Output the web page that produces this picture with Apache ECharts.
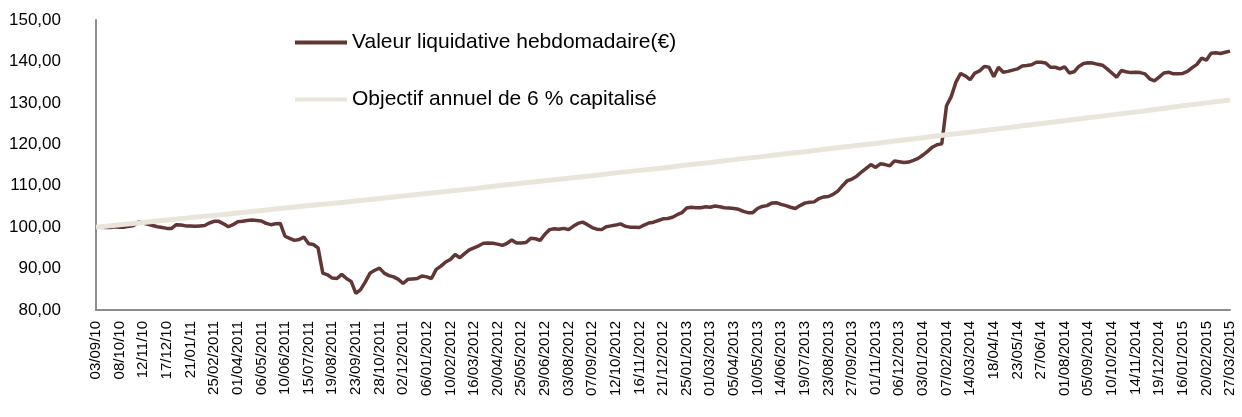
<!DOCTYPE html>
<html>
<head>
<meta charset="utf-8">
<script src="https://cdn.jsdelivr.net/npm/echarts@6/dist/echarts.min.js"></script>
<style>
html,body{margin:0;padding:0;background:#fff;}
#chart{width:1242px;height:417px;}
</style>
</head>
<body>
<div id="chart"></div>
<script>
// Tick labels (one every 5 weekly points)
const tickLabels = ["03/09/10","08/10/10","12/11/10","17/12/10","21/01/11","25/02/2011","01/04/2011","06/05/2011","10/06/2011","15/07/2011","19/08/2011","23/09/2011","28/10/2011","02/12/2011","06/01/2012","10/02/2012","16/03/2012","20/04/2012","25/05/2012","29/06/2012","03/08/2012","07/09/2012","12/10/2012","16/11/2012","21/12/2012","25/01/2013","01/03/2013","05/04/2013","10/05/2013","14/06/2013","19/07/2013","23/08/2013","27/09/2013","01/11/2013","06/12/2013","03/01/2014","07/02/2014","14/03/2014","18/04/14","23/05/14","27/06/14","01/08/2014","05/09/2014","10/10/2014","14/11/2014","19/12/2014","16/01/2015","20/02/2015","27/03/2015"];

// Weekly net asset value (241 weeks)
const valeurLiquidative = [
100.0,100.0,99.9,99.9,100.1,100.0,100.0,100.2,100.4,101.3,
101.0,100.7,100.4,100.1,99.9,99.7,99.7,100.6,100.5,100.3,
100.3,100.2,100.3,100.4,101.0,101.4,101.4,100.8,100.1,100.6,
101.3,101.4,101.6,101.7,101.6,101.5,100.9,100.6,100.8,100.9,
97.8,97.3,96.8,97.0,97.6,96.0,95.8,95.0,88.9,88.5,
87.7,87.6,88.6,87.6,86.9,84.0,84.9,86.8,88.9,89.6,
90.1,88.9,88.3,88.0,87.4,86.4,87.4,87.5,87.6,88.2,
88.0,87.6,89.8,90.6,91.6,92.2,93.4,92.6,93.6,94.5,
95.0,95.5,96.1,96.2,96.1,95.9,95.6,96.1,96.9,96.2,
96.2,96.3,97.3,97.2,96.8,98.3,99.4,99.6,99.5,99.7,
99.4,100.2,100.9,101.2,100.6,99.9,99.5,99.4,100.1,100.3,
100.5,100.8,100.2,100.0,100.0,99.9,100.5,101.0,101.2,101.6,
102.0,102.1,102.4,103.0,103.5,104.6,104.8,104.7,104.7,104.9,
104.8,105.1,104.9,104.7,104.6,104.5,104.3,103.8,103.5,103.5,
104.5,105.0,105.2,105.8,105.9,105.5,105.2,104.8,104.5,105.2,
105.8,106.0,106.1,106.9,107.3,107.4,107.9,108.7,110.0,111.2,
111.6,112.3,113.3,114.2,115.1,114.4,115.3,115.1,114.8,116.0,
115.8,115.6,115.7,116.1,116.6,117.4,118.3,119.3,119.9,120.1,
129.3,131.5,135.0,137.1,136.5,135.6,137.2,137.7,138.8,138.6,
136.3,138.6,137.4,137.6,137.9,138.2,138.9,139.0,139.2,139.8,
139.8,139.6,138.6,138.6,138.2,138.7,137.2,137.5,138.8,139.5,
139.7,139.6,139.3,139.1,138.2,137.2,136.2,137.8,137.5,137.3,
137.4,137.3,137.0,135.8,135.3,136.2,137.2,137.4,137.0,137.0,
137.1,137.6,138.5,139.3,140.8,140.3,142.0,142.1,141.9,142.2,
142.5
];

// Objective (6 % per year, compounded), read at each tick label
const objectif = [100.0,100.6,101.1,101.7,102.3,102.8,103.4,104.0,104.6,105.2,105.7,106.3,106.9,107.5,108.1,108.7,109.3,110.0,110.6,111.2,111.8,112.4,113.1,113.7,114.3,115.0,115.6,116.3,116.9,117.6,118.2,118.9,119.6,120.2,120.9,121.6,122.3,122.9,123.6,124.3,125.0,125.7,126.4,127.1,127.8,128.5,129.3,130.0,130.7];

const yTicks = {min: 80, max: 150, step: 10};
const seriesNames = ["Valeur liquidative hebdomadaire(€)", "Objectif annuel de 6 % capitalisé"];

// Weekly category axis: a tick label every 5 weeks
const weeks = [];
tickLabels.forEach(function (t, i) {
  weeks.push(t);
  if (i < tickLabels.length - 1) {
    for (let k = 1; k < 5; k++) weeks.push(t + ' +' + k);
  }
});
const objectifData = weeks.map(function (_, i) { return i % 5 === 0 ? objectif[i / 5] : null; });

const chart = echarts.init(document.getElementById('chart'), null, {renderer: 'canvas'});
chart.setOption({
  animation: false,
  backgroundColor: '#ffffff',
  textStyle: {fontFamily: 'Liberation Sans, Arial, sans-serif'},
  grid: {left: 96, right: 12, top: 20, bottom: 107, containLabel: false, outerBoundsMode: 'none'},
  legend: {
    orient: 'vertical',
    left: 290,
    top: 27,
    itemGap: 36,
    itemWidth: 52,
    itemHeight: 4,
    icon: 'rect',
    textStyle: {fontSize: 21, color: '#000', fontFamily: 'Liberation Sans, Arial, sans-serif'},
    data: [
      {name: seriesNames[0], itemStyle: {color: '#633636'}},
      {name: seriesNames[1], itemStyle: {color: '#E9E5DA'}}
    ]
  },
  xAxis: {
    type: 'category',
    data: weeks,
    boundaryGap: false,
    axisLine: {show: true, lineStyle: {color: '#8c8c8c', width: 2}},
    axisTick: {show: false},
    splitLine: {show: false},
    axisLabel: {
      interval: 4,
      rotate: 90,
      margin: 11,
      fontSize: 15,
      color: '#000',
      fontFamily: 'Liberation Sans, Arial, sans-serif'
    }
  },
  yAxis: {
    type: 'value',
    min: yTicks.min,
    max: yTicks.max,
    interval: yTicks.step,
    axisLine: {show: true, lineStyle: {color: '#8c8c8c', width: 2}},
    axisTick: {show: false},
    splitLine: {show: false},
    axisLabel: {
      margin: 35,
      fontSize: 17,
      color: '#000',
      fontFamily: 'Liberation Sans, Arial, sans-serif',
      formatter: function (v) { return v.toFixed(2).replace('.', ','); }
    }
  },
  series: [
    {
      name: seriesNames[0],
      type: 'line',
      data: valeurLiquidative,
      symbol: 'none',
      lineStyle: {color: '#633636', width: 3.5},
      itemStyle: {color: '#633636'},
      z: 2
    },
    {
      name: seriesNames[1],
      type: 'line',
      data: objectifData,
      connectNulls: true,
      symbol: 'none',
      lineStyle: {color: '#E9E5DA', width: 5},
      itemStyle: {color: '#E9E5DA'},
      z: 3
    }
  ]
});
</script>
</body>
</html>
